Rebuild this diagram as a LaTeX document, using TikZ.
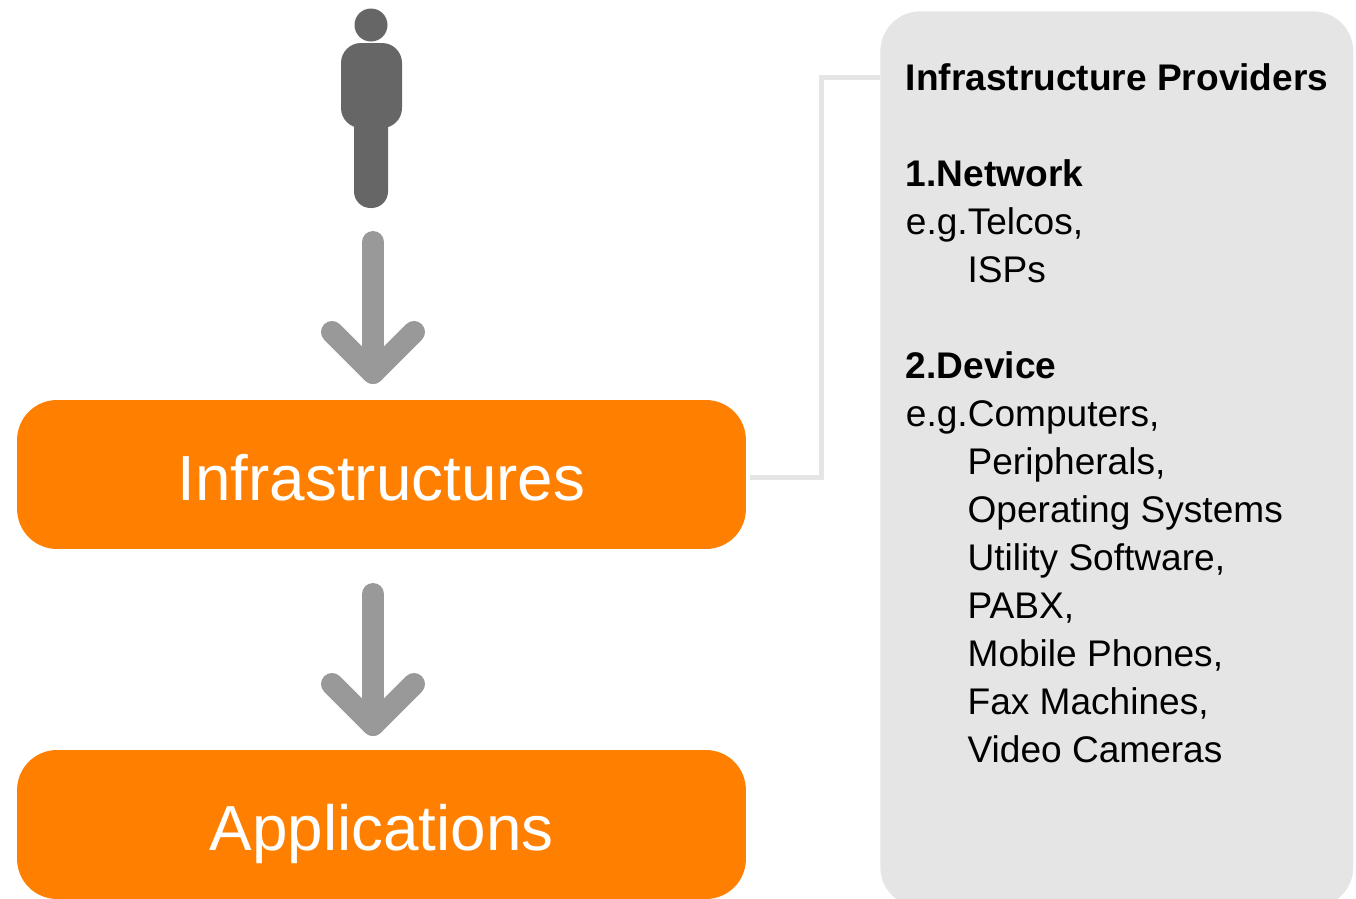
\documentclass[tikz,border=0pt]{standalone}
\usepackage{fontspec}
\setmainfont{Liberation Sans}

\begin{document}
\begin{tikzpicture}[x=0.02cm,y=-0.02cm,
 box/.style ={fill=orange1, text=white, rounded corners=.8cm, minimum width=14.58cm, minimum height=2.98cm, text height=1.02cm, text depth=0cm, font=\fontsize{36.3}{44}\selectfont},
 panel/.style ={fill=grey1, rounded corners=.8cm, minimum width=9.46cm, minimum height=17.92cm},
 link/.style ={-,draw=grey1,line width=.1cm,shorten <=.08cm},
 flow/.style ={-,draw=grey2,line width=.44cm,line cap=round,line join=round},
 person/.style ={fill=grey3}
 ]
\definecolor{orange1}{HTML}{FF7F00}
\definecolor{grey1}{HTML}{E5E5E5}
\definecolor{grey2}{HTML}{999999}
\definecolor{grey3}{HTML}{666666}
\useasboundingbox (0,0) rectangle (1356,899);
%draw person
\fill[person] (371,25) circle (16.5);
\fill[person,rounded corners=.4cm] (341,43) rectangle (402,128);
\fill[person,rounded corners=.33cm] (354,110) rectangle (388,208);
%draw boxes
\node[box] (infra) at (381.5,474.5) {Infrastructures};
\node[box] (apps) at (381.5,824.5) {Applications};
%draw side panel
\node[panel,anchor=north west] (providers) at (880,11) {};
\node[anchor=north west,inner sep=0pt,align=left,font=\fontsize{21.1}{27.33}\selectfont] (providerstext) at (905.6,63) {%
\textbf{Infrastructure Providers}\\
\\
\textbf{1.Network}\\
e.g.Telcos,\\
\hspace*{35.1pt}ISPs\\
\\
\textbf{2.Device}\\
e.g.Computers,\\
\hspace*{35.1pt}Peripherals,\\
\hspace*{35.1pt}Operating Systems\\
\hspace*{35.1pt}Utility Software,\\
\hspace*{35.1pt}PABX,\\
\hspace*{35.1pt}Mobile Phones,\\
\hspace*{35.1pt}Fax Machines,\\
\hspace*{35.1pt}Video Cameras};
%draw link from infrastructures to panel
\coordinate (turn) at (821,77);
\draw[link] ([yshift=-.06cm]infra.east) -| (turn) -- (providers.west |- turn);
%draw arrow 0
\coordinate (tip0) at (373,373);
\draw[flow] (373,242) -- (tip0);
\draw[flow] (332,332) -- (tip0) -- (414,332);
%draw arrow 1
\coordinate (tip1) at (373,725);
\draw[flow] (373,594) -- (tip1);
\draw[flow] (332,684) -- (tip1) -- (414,684);
\end{tikzpicture}
\end{document}
